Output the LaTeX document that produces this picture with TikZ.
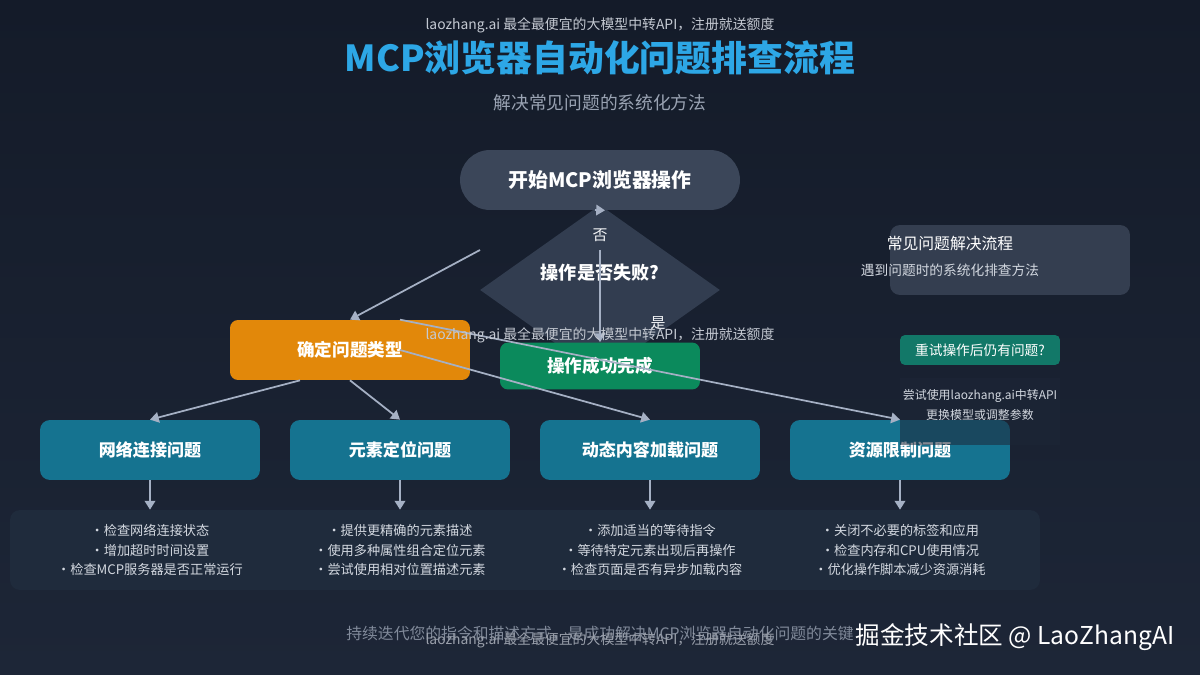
\documentclass[tikz,border=0pt]{standalone}
\usepackage{fontspec}
\setmainfont{Noto Sans CJK SC}
\usetikzlibrary{arrows.meta,shapes.geometric}
\definecolor{bgtop}{HTML}{141B29}
\definecolor{bgbot}{HTML}{1D2637}
\definecolor{titlec}{HTML}{2DA7E6}
\definecolor{subc}{HTML}{9AA3B3}
\definecolor{wmc}{HTML}{C4C9D2}
\definecolor{startc}{HTML}{3B4659}
\definecolor{decc}{HTML}{323D50}
\definecolor{typc}{HTML}{E2880A}
\definecolor{donec}{HTML}{0B8A5C}
\definecolor{probc}{HTML}{157390}
\definecolor{panelc}{HTML}{1F2B3C}
\definecolor{notec}{HTML}{3A4456}
\definecolor{retryc}{HTML}{127868}
\definecolor{arrowc}{HTML}{A5B0C4}
\definecolor{bulletc}{HTML}{D3D8E0}
\newcommand{\fsz}[1]{\fontsize{#1}{1.35\dimexpr#1pt\relax}\selectfont}
\tikzset{flow/.style={draw=arrowc,line width=1pt,-{Triangle[width=6pt,length=5pt]}},
  startbox/.style={fill=startc,rounded corners=0.6cm,minimum width=5.6cm,minimum height=1.2cm,
    text=white,font=\fsz{11.3}\bfseries},
  decbox/.style={diamond,fill=decc,inner sep=0pt,minimum width=4.8cm,minimum height=3.4cm},
  typbox/.style={fill=typc,rounded corners=0.16cm,minimum width=4.8cm,minimum height=1.2cm,
    text=white,font=\fsz{10}\bfseries},
  donebox/.style={fill=donec,rounded corners=0.16cm,minimum width=4cm,minimum height=0.94cm,
    text=white,font=\fsz{10}\bfseries},
  probbox/.style={fill=probc,rounded corners=0.2cm,minimum width=4.4cm,minimum height=1.2cm,
    text=white,font=\fsz{9.7}\bfseries},
  panel/.style={fill=panelc,rounded corners=0.2cm,minimum width=5.6cm,minimum height=1.6cm,
    text=bulletc,font=\fontsize{7.5}{11.3}\selectfont,align=center},
  wm/.style={text=wmc,font=\fsz{7.9}},
  lab/.style={text=white!88!arrowc,font=\fsz{8.5}}}

\begin{document}
\begin{tikzpicture}[x=0.02cm,y=-0.02cm]
\useasboundingbox (0,0) rectangle (1200,675);
\shade[top color=bgtop,bottom color=bgbot] (0,0) rectangle (1200,675);
\node[wm] (wmtop) at (600,25) {laozhang.ai 最全最便宜的大模型中转API，注册就送额度};
\node[text=titlec,font=\fsz{20.4}\bfseries] (title) at (600,58) {MCP浏览器自动化问题排查流程};
\node[text=subc,font=\fsz{10.1}] (sub) at (600,103) {解决常见问题的系统化方法};
\node[decbox] (dec) at (600,290) {};
\node[text=white,font=\fsz{10.3}\bfseries] (dectext) at (600,273) {操作是否失败?};
\node[startbox] (start) at (600,180) {开始MCP浏览器操作};
\node[lab] (nolab) at (600,235) {否};
\node[lab] (yeslab) at (658,323) {是};
\node[typbox] (typ) at (350,350) {确定问题类型};
\node[donebox] (done) at (600,366) {操作成功完成};
\node[fill=notec,fill opacity=.85,rounded corners=0.2cm,minimum width=4.8cm,minimum height=1.4cm] (note) at (1010,260) {};
\node[text=white,font=\fsz{9}] (notetitle) at (950,244) {常见问题解决流程};
\node[text=bulletc,font=\fsz{7.8}] (notesub) at (950,270) {遇到问题时的系统化排查方法};
\node[fill=retryc,rounded corners=0.1cm,minimum width=3.2cm,minimum height=0.6cm,text=white,font=\fsz{7.8}] (retry) at (980,350) {重试操作后仍有问题?};
\node[probbox] (net) at (150,450) {网络连接问题};
\node[probbox] (elem) at (400,450) {元素定位问题};
\node[probbox] (dyn) at (650,450) {动态内容加载问题};
\node[probbox] (res) at (900,450) {资源限制问题};
\node[fill=bgbot,fill opacity=.55,minimum width=3.2cm,minimum height=1.34cm] (tipbg) at (980,411.5) {};
\node[text=bulletc,font=\fsz{6.8}] (tip1) at (980,396) {尝试使用laozhang.ai中转API};
\node[text=bulletc,font=\fsz{6.8}] (tip2) at (980,415) {更换模型或调整参数};
\node[panel] (netp) at (150,550) {·检查网络连接状态\\·增加超时时间设置\\·检查MCP服务器是否正常运行};
\node[panel] (elemp) at (400,550) {·提供更精确的元素描述\\·使用多种属性组合定位元素\\·尝试使用相对位置描述元素};
\node[panel] (dynp) at (650,550) {·添加适当的等待指令\\·等待特定元素出现后再操作\\·检查页面是否有异步加载内容};
\node[panel] (resp) at (900,550) {·关闭不必要的标签和应用\\·检查内存和CPU使用情况\\·优化操作脚本减少资源消耗};
\coordinate (nofrom) at (595,210);
\coordinate (decmid) at (600,250);
\coordinate (yesfrom) at (480,250);
\draw[flow] (nofrom) -- ([xshift=0.1cm]start.south);
\draw[flow] (decmid) -- (done.north);
\draw[flow] (yesfrom) -- (typ.north);
\draw[flow] ([xshift=-1cm]typ.south) -- (net.north);
\draw[flow] (typ.south) -- (elem.north);
\draw[flow] ([xshift=1cm]typ.center) -- (dyn.north);
\draw[flow] ([xshift=1cm]typ.north) -- (res.north);
\draw[flow] (net.south) -- (netp.north);
\draw[flow] (elem.south) -- (elemp.north);
\draw[flow] (dyn.south) -- (dynp.north);
\draw[flow] (res.south) -- (resp.north);
\node[wm] (wmmid) at (600,335) {laozhang.ai 最全最便宜的大模型中转API，注册就送额度};
\node[text=subc!80!bgbot,font=\fsz{9}] (foot) at (600,634) {持续迭代您的指令和描述方式，是成功解决MCP浏览器自动化问题的关键};
\node[wm,text=wmc!75!bgbot] (wmbot) at (600,640) {laozhang.ai 最全最便宜的大模型中转API，注册就送额度};
\node[text=white,font=\fsz{14}] (brand) at (1015,637) {掘金技术社区 @ LaoZhangAI};
\end{tikzpicture}
\end{document}
